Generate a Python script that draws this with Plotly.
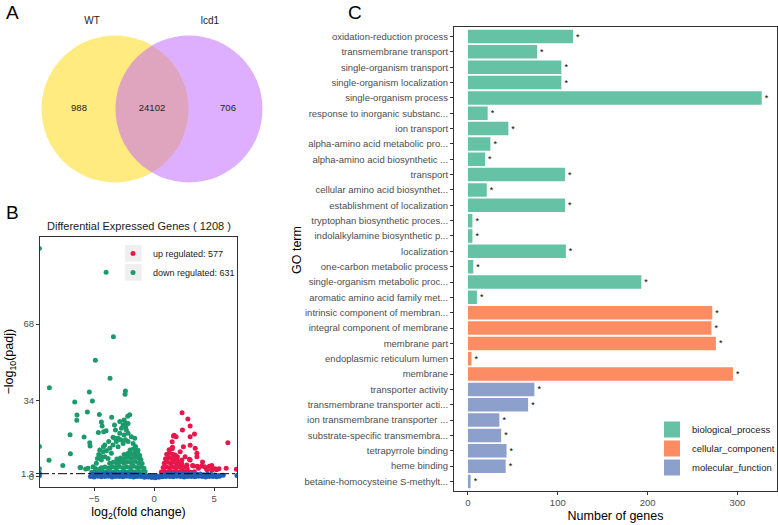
import plotly.graph_objects as go

W, H = 778, 525

# ---------------- Panel A : Venn ----------------
venn_sets = ["WT", "lcd1"]
venn_counts = [988, 24102, 706]          # WT only, shared, lcd1 only
venn_colors = ["rgba(255,215,0,0.5)", "rgba(192,96,255,0.5)"]

# ---------------- Panel B : volcano ----------------
volcano_title = "Differential Expressed Genes ( 1208 )"
up_n, down_n = 577, 631
padj_cut = 1.3

down_x = [-9.55, -4.0, -3.39, -4.89, -3.67, -8.72, -5.39, -2.39, -2.42, -6.61, -5.14, -5.56, -4.56, -3.53,
          -2.03, -6.44, -4.39, -2.2, -2.4, -4.33, -3.3, -9.55, -7.0, -5.83, -5.36, -5.33, -4.64, -4.2, -4.0,
          -6.97, -8.75, -7.6, -6.17, -5.7, -9.55, -6.11,
          -4.61, -4.25, -3.97, -4.11, -3.69, -3.42, -3.14, -3.0, -2.86, -2.72, -2.58, -2.31, -2.17, -1.89,
          -1.61, -1.75, -3.0, -3.56, -3.83, -4.39, -4.81, -5.08, -5.5, -4.72, -4.44, -3.22, -3.42, -2.5,
          -2.78, -2.39, -2.17, -2.58, -3.28, -2.36, -2.86, -2.5, -2.17, -3.78, -4.11, -4.53, -4.22, -6.42,
          -5.2, -4.9, -4.6, -4.3, -4.0, -3.7, -3.4, -3.1, -2.8, -2.5, -2.2, -1.9, -1.6, -1.3, -1.0, -0.75,
          -4.4, -4.1, -3.8, -3.5, -3.2, -2.9, -2.6, -2.3, -2.0, -1.7, -1.4, -1.1, -0.85,
          -3.7, -3.4, -3.1, -2.8, -2.5, -2.2, -1.9, -1.6, -1.3, -1.0,
          -3.1, -2.8, -2.5, -2.2, -1.9, -1.6, -1.3, -1.1,
          -2.5, -2.2, -1.9, -1.6, -1.35, -1.2,
          -2.0, -1.75, -1.5, -1.35, -1.55, -4.9, -4.6]
down_y = [101.7, 91.1, 62.3, 51.8, 43.8, 39.6, 37.7, 38.1, 36.7, 33.2, 33.7, 28.8, 27.7, 26.4,
          27.6, 25.1, 24.3, 26.9, 24.0, 22.5, 23.0, 13.4, 18.7, 17.6, 15.1, 13.6, 19.7, 20.0, 20.4,
          10.2, 7.3, 4.9, 4.1, 3.4, 3.5, 4.0,
          9.9, 11.1, 11.5, 8.9, 12.6, 14.1, 15.6, 17.1, 19.3, 21.5, 23.0, 20.8, 19.3, 17.8,
          17.1, 14.8, 13.3, 10.4, 8.1, 7.4, 5.9, 4.4, 3.7, 8.1, 9.1, 20.8, 17.5, 18.5,
          16.4, 16.4, 15.6, 14.8, 17.1, 22.2, 24.5, 25.2, 23.7, 15.6, 14.1, 11.8, 13.3, 27.4,
          1.9, 2.3, 1.8, 2.4, 2.0, 2.6, 2.1, 2.5, 1.9, 2.4, 2.0, 2.6, 2.1, 2.4, 2.0, 2.2,
          3.9, 4.3, 3.8, 4.4, 4.0, 4.5, 3.9, 4.4, 4.1, 4.6, 4.0, 4.3, 3.7,
          5.9, 6.4, 6.0, 6.5, 6.1, 6.6, 6.2, 6.7, 6.1, 5.8,
          7.8, 8.3, 8.0, 8.6, 8.1, 8.7, 8.2, 7.6,
          9.8, 10.3, 10.0, 10.6, 10.1, 9.4,
          11.9, 12.3, 12.0, 11.7, 13.4, 3.6, 3.2]

up_x = [2.33, 2.81, 3.0, 2.36, 1.67, 1.83, 3.36, 3.0, 1.5, 2.44, 3.0, 3.42, 6.14, 3.56, 2.94, 4.03,
        3.2, 3.6, 4.2, 4.6, 4.8, 5.4, 6.0, 6.85, 4.4, 4.8, 5.2, 1.53, 1.61, 2.17, 1.94, 2.31, 2.58,
        3.0, 2.72, 3.28, 3.69, 3.97, 4.33, 4.81, 5.08, 3.56,
        0.6, 0.85, 1.1, 1.35, 1.6, 1.85, 2.1, 2.35, 2.6, 2.85, 3.1, 3.35,
        0.75, 1.0, 1.25, 1.5, 1.75, 2.0, 2.25, 2.5, 2.75,
        0.85, 1.1, 1.35, 1.6, 1.85, 2.1, 2.3,
        0.95, 1.2, 1.45, 1.7, 1.9,
        1.05, 1.3, 1.55, 1.75,
        1.25, 1.5]
up_y = [28.5, 25.7, 22.5, 20.8, 18.4, 17.8, 19.0, 17.8, 15.5, 13.3, 14.0, 12.6, 15.1, 10.4, 7.7, 6.5,
        5.0, 4.6, 4.4, 4.6, 5.0, 3.5, 3.7, 3.3, 3.0, 2.8, 3.1, 13.1, 18.1, 11.1, 8.9, 7.4, 8.9,
        7.4, 5.2, 4.7, 3.7, 4.7, 3.7, 3.0, 3.5, 8.9,
        2.0, 2.4, 1.9, 2.5, 2.0, 2.4, 1.9, 2.5, 2.0, 2.3, 1.9, 2.2,
        4.0, 4.4, 3.9, 4.5, 4.0, 4.4, 3.9, 4.2, 3.8,
        6.0, 6.5, 6.1, 6.6, 6.0, 6.3, 5.7,
        8.0, 8.5, 8.1, 8.4, 7.8,
        10.0, 10.4, 10.0, 9.6,
        12.0, 12.4]

ns_x = [-5.3, -5.0, -4.7, -4.4, -4.1, -3.8, -3.5, -3.2, -2.9, -2.6, -2.3, -2.0, -1.7, -1.4, -1.1, -0.8,
        -0.5, -0.2, 0.1, 0.4, 0.7, 1.0, 1.3, 1.6, 1.9, 2.2, 2.5, 2.8, 3.1, 3.4, 3.7, 4.0, 4.3, 4.6, 4.9,
        5.2, 5.45,
        -5.15, -4.85, -4.55, -4.25, -3.95, -3.65, -3.35, -3.05, -2.75, -2.45, -2.15, -1.85, -1.55, -1.25,
        -0.95, -0.65, -0.35, -0.05, 0.25, 0.55, 0.85, 1.15, 1.45, 1.75, 2.05, 2.35, 2.65, 2.95, 3.25,
        3.55, 3.85, 4.15, 4.45, 4.75, 5.05, 5.35,
        -9.55, -9.55, 5.75, 6.9]
ns_y = [0.1, -0.2, 0.2, -0.1, 0.0, 0.2, -0.2, 0.1, 0.0, -0.1, 0.2, 0.0, -0.2, 0.1, 0.0, -0.3,
        -0.2, -0.4, -0.5, -0.3, -0.1, 0.0, 0.1, -0.1, 0.2, 0.0, -0.2, 0.1, 0.0, -0.1, 0.2, 0.0, -0.2,
        0.1, 0.0, -0.1, 0.2,
        1.0, 1.2, 0.9, 1.1, 1.3, 1.0, 1.2, 0.9, 1.1, 1.2, 1.0, 1.1, 0.9, 0.8,
        0.6, 0.4, 0.3, 0.2, 0.3, 0.5, 0.8, 1.0, 1.2, 1.1, 0.9, 1.2, 1.0, 1.1, 0.9,
        1.0, 1.2, 0.8, 1.0, 0.9, 0.7, 0.5,
        0.4, 1.6, 0.6, 0.5]

# ---------------- Panel C : GO enrichment ----------------
go_terms = [
    "oxidation-reduction process", "transmembrane transport", "single-organism transport",
    "single-organism localization", "single-organism process", "response to inorganic substanc...",
    "ion transport", "alpha-amino acid metabolic pro...", "alpha-amino acid biosynthetic ...",
    "transport", "cellular amino acid biosynthet...", "establishment of localization",
    "tryptophan biosynthetic proces...", "indolalkylamine biosynthetic p...", "localization",
    "one-carbon metabolic process", "single-organism metabolic proc...", "aromatic amino acid family met...",
    "intrinsic component of membran...", "integral component of membrane", "membrane part",
    "endoplasmic reticulum lumen", "membrane",
    "transporter activity", "transmembrane transporter acti...", "ion transmembrane transporter ...",
    "substrate-specific transmembra...", "tetrapyrrole binding", "heme binding",
    "betaine-homocysteine S-methylt..."]
go_counts = [117, 77, 104, 104, 327, 22, 45, 25, 19, 108, 21, 108, 5, 5, 109, 6, 193, 10,
             272, 271, 276, 4, 295,
             74, 67, 35, 37, 43, 42, 3]
go_class = ["biological_process"] * 18 + ["cellular_component"] * 5 + ["molecular_function"] * 7
class_names = ["biological_process", "cellular_component", "molecular_function"]
class_colors = ["#66C2A5", "#FC8D62", "#8DA0CB"]

FONT = "Liberation Sans, Arial, Helvetica, sans-serif"
GREY = "#4D4D4D"

fig = go.Figure()

# ---- Venn (panel A) ----
R, CY, C1X, C2X = 73.5, 109, 115, 189
for cx, col in zip([C1X, C2X], venn_colors):
    fig.add_shape(type="circle", xref="x3", yref="y3", x0=cx - R, x1=cx + R, y0=CY - R, y1=CY + R,
                  fillcolor=col, line=dict(width=0), layer="below")
fig.add_trace(go.Scatter(x=[79, (C1X + C2X) / 2, 228], y=[CY] * 3, mode="text",
                         text=[str(v) for v in venn_counts], textfont=dict(size=9.5, color="#222", family=FONT),
                         xaxis="x3", yaxis="y3", showlegend=False, hoverinfo="skip"))
fig.add_trace(go.Scatter(x=[92, 210], y=[21, 21], mode="text", text=venn_sets,
                         textfont=dict(size=10, color="#222", family=FONT),
                         xaxis="x3", yaxis="y3", showlegend=False, hoverinfo="skip"))

# ---- Volcano (panel B) ----
fig.add_trace(go.Scatter(x=up_x, y=up_y, mode="markers", name=f"up regulated: {up_n}",
                         marker=dict(color="#E8164B", size=5), xaxis="x", yaxis="y", legend="legend"))
fig.add_trace(go.Scatter(x=down_x, y=down_y, mode="markers", name=f"down regulated: {down_n}",
                         marker=dict(color="#1B9A6B", size=5), xaxis="x", yaxis="y", legend="legend"))
fig.add_trace(go.Scatter(x=ns_x, y=ns_y, mode="markers", name="not significant", showlegend=False,
                         marker=dict(color="#1F5FB8", size=5), xaxis="x", yaxis="y"))
fig.add_shape(type="line", xref="x domain", yref="y", x0=0, x1=1, y0=padj_cut, y1=padj_cut,
              line=dict(color="black", width=1, dash="dashdot"), layer="above")
# grey legend-key backgrounds
for ky in (245, 264):
    fig.add_shape(type="rect", xref="paper", yref="paper", x0=125 / W, x1=141.7 / W,
                  y0=1 - (ky + 16.7) / H, y1=1 - ky / H, fillcolor="#EFEFEF", line=dict(width=0),
                  layer="below")

# ---- Bars (panel C) ----
for cname, ccol in zip(class_names, class_colors):
    ys = [t for t, c in zip(go_terms, go_class) if c == cname]
    xs = [v for v, c in zip(go_counts, go_class) if c == cname]
    fig.add_trace(go.Bar(x=xs, y=ys, orientation="h", marker=dict(color=ccol, line=dict(width=0)),
                         text=["*"] * len(xs), textposition="outside", cliponaxis=False,
                         textfont=dict(size=9, color="black", family=FONT), constraintext="none",
                         xaxis="x2", yaxis="y2", showlegend=False, name=cname))
    fig.add_trace(go.Scatter(x=[None], y=[None], mode="markers", name=cname,
                             marker=dict(symbol="square", size=16, color=ccol),
                             xaxis="x2", yaxis="y2", legend="legend2"))

axis_common = dict(showgrid=False, zeroline=False, showline=True, mirror=True, linecolor="#333333",
                   linewidth=1, ticks="outside", ticklen=3, tickcolor="#333333", automargin=False,
                   tickfont=dict(size=9.5, color=GREY, family=FONT))


def letter(t, x, y):
    return dict(text=t, x=x / W, y=1 - y / H, xref="paper", yref="paper", showarrow=False,
                xanchor="center", yanchor="middle", font=dict(size=19, color="black", family=FONT))


fig.update_layout(
    width=W, height=H, margin=dict(l=0, r=0, t=0, b=0, autoexpand=False),
    paper_bgcolor="white", plot_bgcolor="white", font=dict(family=FONT),
    barmode="overlay", bargap=0.12,
    xaxis=dict(domain=[40 / W, 237 / W], range=[-9.5, 6.9], tickvals=[-5, 0, 5], anchor="y",
               title=dict(text="log<sub>2</sub>(fold change)", font=dict(size=12.5, color="black"), standoff=4),
               **axis_common),
    yaxis=dict(domain=[1 - 486.7 / H, 1 - 236.7 / H], range=[-4.5, 106.9], tickvals=[0, 1.3, 34, 68],
               ticktext=["0", "1.3", "34", "68"], anchor="x",
               title=dict(text="−log<sub>10</sub>(padj)", font=dict(size=12.5, color="black"), standoff=4),
               **axis_common),
    xaxis2=dict(domain=[454 / W, 777 / W], range=[-15.5, 344], tickvals=[0, 100, 200, 300], anchor="y2",
                title=dict(text="Number of genes", font=dict(size=12.5, color="black"), standoff=4),
                **axis_common),
    yaxis2=dict(domain=[1 - 490.7 / H, 1 - 27.3 / H], type="category", categoryorder="array",
                categoryarray=go_terms, range=[len(go_terms) - 0.4, -0.6], anchor="x2",
                **axis_common),
    xaxis3=dict(domain=[0, 270 / W], range=[0, 270], visible=False, anchor="y3"),
    yaxis3=dict(domain=[1 - 200 / H, 1], range=[200, 0], visible=False, anchor="x3"),
    legend=dict(x=113 / W, y=1 - 239 / H, xanchor="left", yanchor="top", bgcolor="rgba(0,0,0,0)",
                font=dict(size=9, color="#1A1A1A", family=FONT), itemsizing="trace"),
    legend2=dict(x=652 / W, y=1 - 415 / H, xanchor="left", yanchor="top", bgcolor="rgba(0,0,0,0)",
                 font=dict(size=9.5, color="#1A1A1A", family=FONT), itemsizing="trace"),
    annotations=[
        letter("A", 12, 12), letter("B", 12, 212), letter("C", 355, 12),
        dict(text=volcano_title, x=138.5 / W, y=1 - 226 / H, xref="paper", yref="paper", showarrow=False,
             xanchor="center", yanchor="middle", font=dict(size=11, color="#1A1A1A", family=FONT)),
        dict(text="GO term", x=297 / W, y=1 - 250 / H, xref="paper", yref="paper", showarrow=False,
             xanchor="center", yanchor="middle", textangle=-90,
             font=dict(size=12.5, color="black", family=FONT)),
    ],
)

fig.write_html("out.html", config={"displayModeBar": False},
               post_script="document.body.style.margin='0px';")
